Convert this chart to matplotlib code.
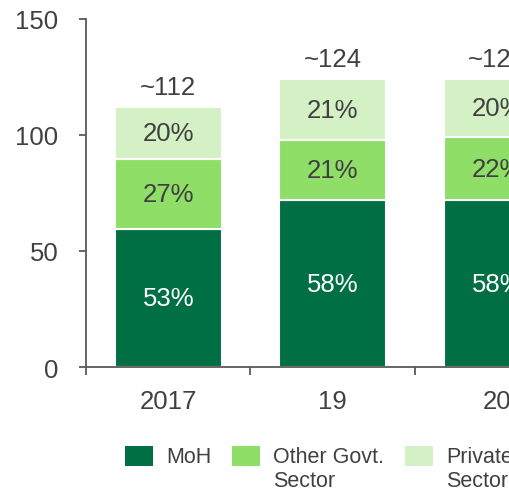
import matplotlib
matplotlib.use("Agg")
import matplotlib.pyplot as plt
from matplotlib.patches import Rectangle
import numpy as np

years = ["2017", "19", "20"]
totals = [112, 124, 124]
moh_share = [53, 58, 58]
other_share = [27, 21, 22]
private_share = [20, 21, 20]
series_names = ["MoH", "Other Govt.\nSector", "Private\nSector"]
colors = ["#006f44", "#8fde68", "#d3f1c5"]
text_color = "#404040"

plt.rcParams["font.family"] = ["Liberation Sans", "DejaVu Sans"]

W, H = 510, 489
fig = plt.figure(figsize=(W / 100, H / 100), dpi=100)
fig.patch.set_facecolor("white")

# axes run off the right edge of the figure, like the cropped original
ax = fig.add_axes((86 / W, 1 - 368 / H, 493.5 / W, 348 / H))
ax.set_xlim(-0.5, 2.5)
ax.set_ylim(0, 150)

x = np.arange(len(years))
tot = np.array(totals, dtype=float)
shares = [moh_share, other_share, private_share]
bottom = np.zeros(len(years))
for name, share, color in zip(series_names, shares, colors):
    heights = tot * np.array(share) / 100.0
    ax.bar(x, heights, width=0.65, bottom=bottom, color=color,
           edgecolor="white", linewidth=1.5)
    lab_color = "white" if color == colors[0] else text_color
    for xi, b, h, s in zip(x, bottom, heights, share):
        ax.text(xi, b + h / 2, f"{s}%", ha="center", va="center",
                fontsize=18.5, color=lab_color)
    bottom = bottom + heights

for xi, t in zip(x, totals):
    ax.annotate(f"~{t}", (xi, t), xytext=(0, 6), textcoords="offset points",
                ha="center", va="bottom", fontsize=18.5, color=text_color)

for side in ["top", "right"]:
    ax.spines[side].set_visible(False)
for side in ["left", "bottom"]:
    ax.spines[side].set_color("#595959")
    ax.spines[side].set_linewidth(1.3)

ax.set_yticks([0, 50, 100, 150])
ax.tick_params(axis="y", direction="out", length=5, width=1.3,
               color="#595959", labelsize=18.5, labelcolor=text_color, pad=15)
ax.set_xticks(np.arange(-0.5, 3.0, 1.0))
ax.tick_params(axis="x", which="major", direction="out", length=6, width=1.3,
               color="#595959", labelbottom=False)
ax.set_xticks(x, minor=True)
ax.set_xticklabels(years, minor=True)
ax.tick_params(axis="x", which="minor", length=0, labelsize=18.5,
               labelcolor=text_color, pad=16)

# legend drawn by hand so the swatch sits on the first text line
legend_x = [125, 232, 405]
for lx, name, color in zip(legend_x, series_names, colors):
    fig.add_artist(Rectangle((lx / W, 1 - 467 / H), 28 / W, 20 / H,
                             transform=fig.transFigure, color=color, lw=0))
    fig.text((lx + 41) / W, 1 - 447 / H, name, ha="left", va="top",
             fontsize=15.5, color=text_color, linespacing=1.2)

fig.savefig("out.png", dpi=100, facecolor="white")
